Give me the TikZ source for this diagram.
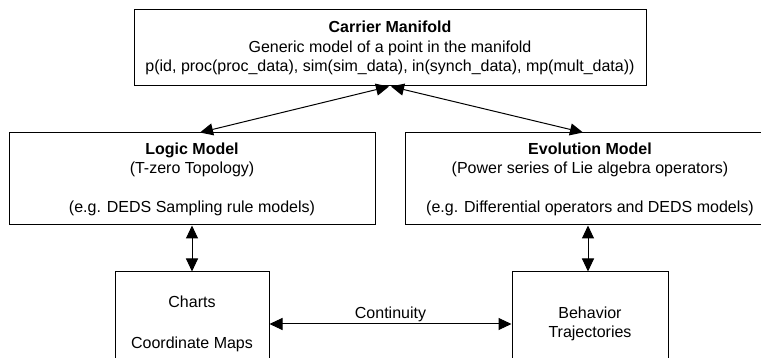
\documentclass[tikz,border=0pt]{standalone}
\usepackage{fontspec}
\setmainfont{Liberation Sans}
\usetikzlibrary{arrows.meta}
\begin{document}
\begin{tikzpicture}[x=1pt,y=-1pt,
  box/.style={draw=black, line width=1pt, fill=white, inner sep=0pt,
    align=center, font=\fontsize{16}{19.3}\selectfont},
  link/.style={line width=1pt,
    {Triangle[length=13pt,width=12pt]}-{Triangle[length=13pt,width=12pt]}},
  lbl/.style={font=\fontsize{16}{19.3}\selectfont, inner sep=2pt}]
\useasboundingbox (0,0) rectangle (761,358);
\clip (0,0) rectangle (761,358);

% upper box
\node[box, minimum width=512pt, minimum height=76pt] (carrier) at (390,48)
  {\textbf{Carrier Manifold}\\Generic model of a point in the manifold\\
   p(id, proc(proc\_data), sim(sim\_data), in(synch\_data), mp(mult\_data))};

% middle boxes (the right one runs past the right edge)
\node[box, minimum width=366pt, minimum height=92pt] (logic) at (192,179)
  {\textbf{Logic Model}\\(T-zero Topology)\\\mbox{}\\(e.g. DEDS Sampling rule models)};
\node[box, minimum width=370pt, minimum height=92pt] (evolution) at (590,179)
  {\textbf{Evolution Model}\\(Power series of Lie algebra operators)\\\mbox{}\\(e.g. Differential operators and DEDS models)};

% lower boxes (run off the bottom edge)
\node[box, minimum width=154pt, minimum height=104pt,
  font=\fontsize{16}{20.5}\selectfont] (charts) at (192,324)
  {Charts\\\mbox{}\\Coordinate Maps};
\node[box, minimum width=156pt, minimum height=104pt] (behavior) at (590,324)
  {Behavior\\Trajectories};

% connectors
\draw[link] ([xshift=8pt]logic.north) -- ([xshift=-1pt]carrier.south);
\draw[link] ([xshift=-7pt]evolution.north) -- ([xshift=1pt]carrier.south);
\draw[link] (logic.south) -- (charts.north);
\draw[link] ([xshift=-2pt]evolution.south) -- ([xshift=-2pt]behavior.north);
\draw[link] (charts.east) -- node[lbl, above] (cont) {Continuity} (behavior.west);
\end{tikzpicture}
\end{document}
